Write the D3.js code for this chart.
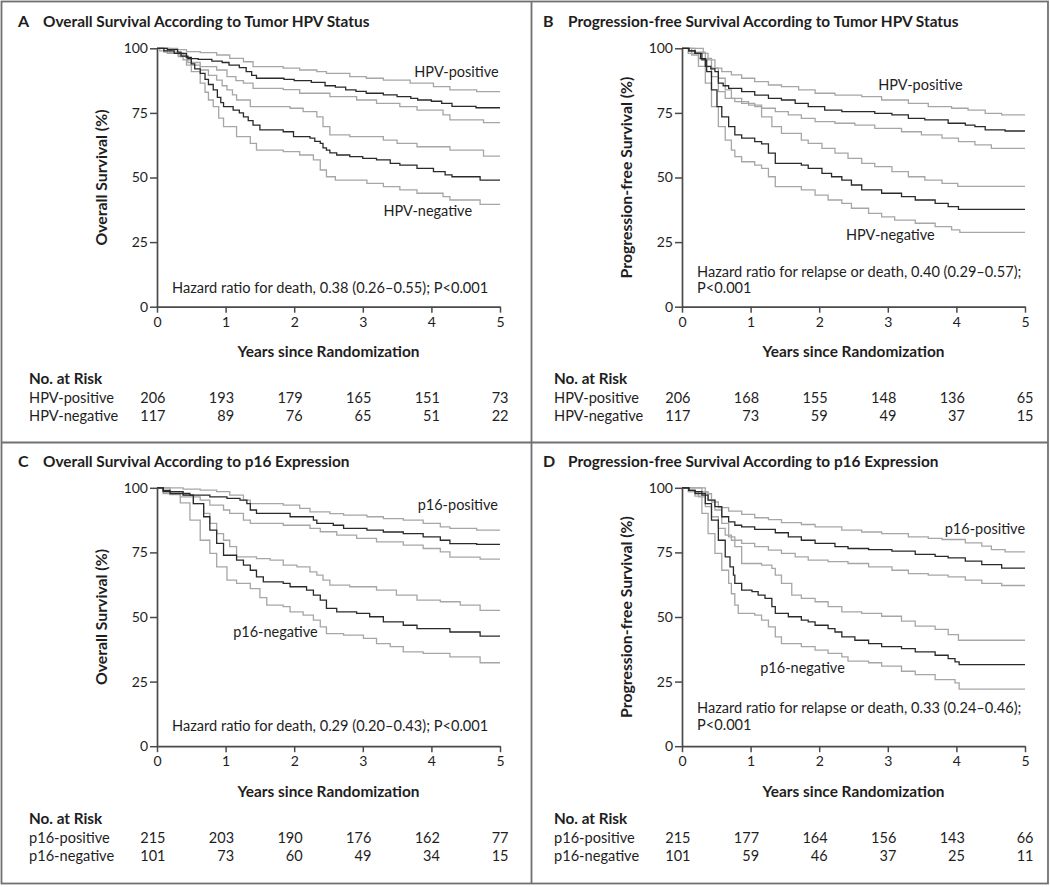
<!DOCTYPE html>
<html>
<head>
<meta charset="utf-8">
<script src="https://cdn.jsdelivr.net/npm/d3@7"></script>
<style>
	body { margin: 0; background: #fff; }
	svg text { font-family: Lato, "Open Sans", sans-serif; fill: #1e1e1e; }
</style>
</head>
<body>
<div id="chart"></div>
<script>

// Axis ticks
var yearTicks = [0, 1, 2, 3, 4, 5];
var survTicks = [0, 25, 50, 75, 100];

// Panel A - overall survival by HPV status  [years, survival %]
var aPosEst = [[0,100],[0.15,99.5],[0.3,98.5],[0.35,97],[0.45,96],[0.6,95.7],[0.8,95],[0.95,94.5],[1.05,93.5],[1.2,92.5],[1.3,91],[1.38,89.5],[1.45,88.4],[1.85,88],[2.0,87.5],[2.25,86.8],[2.45,85.5],[2.6,85],[2.75,83.9],[2.9,83.3],[3.05,82.6],[3.3,82],[3.5,81.3],[3.7,80.6],[3.8,80],[4.0,79.5],[4.15,78.7],[4.3,77.5],[4.65,77],[5,77]];
var aPosHi = [[0,100],[0.3,99.5],[0.43,98.7],[0.63,98.3],[0.87,97.4],[1.06,96.1],[1.26,94.8],[1.4,92.9],[1.84,92.3],[2.08,91.6],[2.33,91],[2.47,90.3],[2.81,89],[3.05,88.4],[3.3,87.7],[3.69,86.5],[4.03,85.2],[4.27,83.9],[4.66,83.2],[5,83.2]];
var aPosLo = [[0,100],[0.04,99],[0.15,98],[0.31,96.8],[0.45,94.5],[0.63,92.9],[0.87,91.6],[1.02,89],[1.15,87.5],[1.26,86.5],[1.4,84.5],[1.84,84],[2.08,82.6],[2.52,81.3],[2.91,80],[3.2,78.7],[3.54,77.4],[3.79,76.1],[4.17,74.2],[4.27,72.3],[4.76,71.2],[5,71.2]];
var aNegEst = [[0,100],[0.1,99],[0.25,98],[0.43,96.5],[0.5,94],[0.55,92],[0.63,90.3],[0.7,88],[0.75,86],[0.82,83.9],[0.88,81],[0.93,79],[0.97,77.4],[1.11,76.1],[1.2,75],[1.26,73.5],[1.33,72],[1.4,70.3],[1.5,68.4],[1.84,67.7],[1.99,65.8],[2.23,65.2],[2.3,64],[2.38,63.2],[2.42,61.5],[2.47,60.6],[2.52,59.5],[2.62,58.7],[2.81,58.1],[3.0,57.4],[3.2,56.8],[3.4,55.5],[3.54,54.8],[3.79,53.5],[4.03,52.3],[4.2,51],[4.3,50.3],[4.71,49],[5,49]];
var aNegHi = [[0,100],[0.19,98.1],[0.38,95.5],[0.5,93.5],[0.63,91.6],[0.75,89.5],[0.87,87.7],[0.95,85.5],[1.02,83.9],[1.1,82],[1.16,80],[1.36,77.4],[1.94,76.8],[2.13,75.5],[2.33,73.5],[2.42,69.7],[2.52,66.5],[2.81,65.8],[3.3,64.5],[3.5,63.2],[3.79,61.9],[4.27,60.6],[4.76,58.3],[5,58.3]];
var aNegLo = [[0,100],[0.1,98.5],[0.31,97.4],[0.43,93.5],[0.5,91],[0.63,86.5],[0.7,83],[0.75,80],[0.82,77.4],[0.9,73],[0.97,69.7],[1.16,65.8],[1.36,63.2],[1.45,60.6],[1.84,60],[2.08,58.7],[2.28,56.8],[2.38,52.9],[2.47,50.3],[2.6,49],[3.06,47.7],[3.3,46.5],[3.54,45.2],[3.79,43.9],[4.17,42.6],[4.27,41.3],[4.71,39.6],[5,39.6]];

// Panel B - progression-free survival by HPV status
var bPosEst = [[0,100],[0.1,99],[0.19,98],[0.27,96],[0.34,93],[0.42,92],[0.48,91],[0.53,86.5],[0.6,85.5],[0.68,84.5],[0.87,83.2],[1.06,81.9],[1.26,80.6],[1.45,80],[1.65,78.7],[1.84,77.4],[2.08,76.1],[2.33,75.5],[2.81,74.8],[3.06,74.2],[3.3,72.9],[3.54,72.3],[3.88,71],[4.13,70.3],[4.27,69.7],[4.42,68.4],[4.71,68],[5,68]];
var bPosHi = [[0,100],[0.31,98],[0.38,95.5],[0.48,92.3],[0.58,91],[0.72,89.7],[0.87,88.4],[1.06,87.1],[1.26,85.8],[1.45,85.2],[1.7,83.9],[1.94,82.6],[2.23,81.9],[2.62,81.3],[2.91,80],[3.3,78.7],[3.59,77.4],[3.93,76.8],[4.17,76.1],[4.42,74.8],[4.66,74.2],[5,74.2]];
var bPosLo = [[0,100],[0.09,98],[0.24,96],[0.34,92.9],[0.43,89],[0.53,83.2],[0.63,80.6],[0.77,79.4],[0.97,78],[1.16,76.8],[1.36,75.5],[1.55,74.2],[1.74,72.9],[1.94,71.6],[2.23,71],[2.52,70.3],[2.81,69],[3.2,67.7],[3.49,66.5],[3.79,65.2],[4.03,63.9],[4.27,62.6],[4.51,61.3],[5,61.3]];
var bNegEst = [[0,100],[0.1,99],[0.19,98],[0.29,95.5],[0.36,91],[0.43,83.9],[0.51,77.4],[0.58,73.5],[0.68,69.7],[0.77,66.5],[0.87,65.2],[1.06,63.9],[1.16,63],[1.26,59.4],[1.36,55.5],[1.74,54.8],[1.84,53.5],[2.04,51.6],[2.18,50.3],[2.33,49],[2.47,47.1],[2.62,45.2],[2.91,43.9],[3.2,42.6],[3.4,41.3],[3.69,40],[3.88,38.7],[4.03,37.7],[5,37.7]];
var bNegHi = [[0,100],[0.19,98.5],[0.34,96.1],[0.43,92.3],[0.53,88.4],[0.63,83.9],[0.72,80.6],[0.87,78.7],[1.06,77.4],[1.16,73.5],[1.31,69.7],[1.45,67.1],[1.74,64.5],[1.84,63.2],[2.04,61.3],[2.23,59.4],[2.42,57.4],[2.62,55.5],[2.81,54.2],[3.06,52.3],[3.3,50.3],[3.54,49],[3.79,47.7],[4.02,46.6],[5,46.6]];
var bNegLo = [[0,100],[0.14,97.4],[0.24,93],[0.34,86.5],[0.43,77.4],[0.53,69.7],[0.63,64.5],[0.72,60.6],[0.77,58.1],[0.87,56.1],[1.06,54.8],[1.16,53.5],[1.26,50.3],[1.36,46.5],[1.74,45.2],[1.94,43.2],[2.13,41.3],[2.33,40],[2.47,38.1],[2.72,36.1],[2.91,34.8],[3.1,33.5],[3.4,32.3],[3.69,31],[3.93,29.7],[4.05,28.8],[5,28.8]];

// Panel C - overall survival by p16 expression
var cPosEst = [[0,100],[0.09,99],[0.19,97.8],[0.48,97.2],[0.77,96.5],[1.02,95.9],[1.21,95.2],[1.31,93.9],[1.36,91.4],[1.45,90.1],[1.94,88.8],[2.28,87.5],[2.33,86.2],[2.57,85.5],[2.72,84.3],[3.06,83.6],[3.3,82.9],[3.59,82.3],[3.88,81],[4.13,79.7],[4.27,78.4],[4.66,78.1],[5,78.1]];
var cPosHi = [[0,100],[0.38,99.5],[0.63,99.1],[0.87,98.5],[1.06,97.2],[1.26,95.2],[1.36,93.9],[1.84,93.3],[2.08,92],[2.23,90.7],[2.52,90],[2.72,89.4],[3.06,88.8],[3.3,88.1],[3.59,87.5],[3.88,86.2],[4.13,84.9],[4.27,84.3],[4.66,83.6],[5,83.6]];
var cPosLo = [[0,100],[0.09,97.8],[0.34,96.5],[0.63,95.2],[0.77,93.3],[0.97,91.4],[1.06,90.1],[1.26,87.5],[1.36,86.2],[1.84,85.5],[2.23,84.3],[2.38,83],[2.62,81.7],[2.91,80.4],[3.2,79.1],[3.59,77.8],[3.88,76.5],[4.13,75.2],[4.27,73.2],[4.71,72.4],[5,72.4]];
var cNegEst = [[0,100],[0.09,98.5],[0.38,97.2],[0.53,93.9],[0.68,88.8],[0.77,83.6],[0.87,78.5],[0.97,73.9],[1.16,72],[1.26,70.1],[1.36,68.1],[1.45,65.5],[1.55,63.6],[1.84,63],[1.94,61.7],[2.18,60.4],[2.28,58.5],[2.38,56.5],[2.47,53.3],[2.62,52],[2.91,51.4],[3.1,50.1],[3.3,48.1],[3.59,46.8],[3.79,45.5],[4.27,44.2],[4.71,42.6],[5,42.6]];
var cNegHi = [[0,100],[0.19,98.5],[0.38,97.2],[0.53,93.9],[0.68,90.1],[0.77,86.2],[0.87,82.3],[0.97,79.7],[1.06,77.2],[1.16,73.3],[1.45,72.6],[1.65,72],[1.84,70.1],[2.04,69.4],[2.23,67.5],[2.33,66.2],[2.42,64.3],[2.52,62.3],[2.81,61.7],[3.2,60.4],[3.49,58.5],[3.79,56.5],[4.13,55.9],[4.42,54.6],[4.71,52.6],[5,52.6]];
var cNegLo = [[0,100],[0.09,98.5],[0.19,97.4],[0.34,94.2],[0.48,87.5],[0.63,79.7],[0.77,74.6],[0.87,69.4],[1.02,64.3],[1.16,63],[1.36,61],[1.5,57.5],[1.6,54.6],[1.84,54],[1.94,52],[2.13,50.7],[2.28,48.8],[2.38,46.2],[2.47,43.6],[2.72,43],[3.01,41.7],[3.2,39.7],[3.4,38.5],[3.59,36.5],[3.88,35.9],[4.27,34.6],[4.71,32.3],[5,32.3]];

// Panel D - progression-free survival by p16 expression
var dPosEst = [[0,100],[0.1,99],[0.19,98.5],[0.29,97.2],[0.38,95.2],[0.48,92.7],[0.58,88.8],[0.68,86.8],[0.77,85.5],[0.87,84.9],[1.06,83.9],[1.36,82.6],[1.55,81],[1.74,79.7],[1.94,78.5],[2.23,77.2],[2.42,76.5],[2.72,76.1],[3.06,75.5],[3.4,74.2],[3.69,73.5],[3.88,72.9],[4.13,71.6],[4.37,70.3],[4.66,68.9],[5,68.9]];
var dPosHi = [[0,100],[0.34,98],[0.38,97.7],[0.43,94.5],[0.53,92.3],[0.68,91],[0.87,89.7],[1.06,88.4],[1.26,87.7],[1.45,86.5],[1.74,85.8],[1.94,84.9],[2.33,83.6],[2.62,82.9],[2.91,82.3],[3.3,81],[3.59,80.4],[3.79,80],[4.13,78.7],[4.37,77.4],[4.51,76.1],[4.71,75.2],[5,75.2]];
var dPosLo = [[0,100],[0.09,98.5],[0.24,96.5],[0.34,92.7],[0.43,88.8],[0.53,84.3],[0.63,81.7],[0.72,79.7],[0.87,78.5],[1.06,77.2],[1.26,75.9],[1.45,74.6],[1.65,73.3],[1.84,72],[2.13,71.4],[2.42,70.7],[2.72,69.4],[3.06,68.1],[3.3,66.8],[3.59,66.2],[3.88,65.5],[4.13,64.3],[4.37,63],[4.66,62.2],[5,62.2]];
var dNegEst = [[0,100],[0.1,99],[0.19,97.8],[0.34,93.9],[0.43,87.5],[0.53,79.7],[0.63,73.3],[0.7,69.4],[0.75,66.2],[0.77,63],[0.87,60.4],[1.02,59.8],[1.11,58.5],[1.21,57.2],[1.31,54],[1.36,51.4],[1.55,50.1],[1.74,48.8],[1.84,48.1],[1.94,46.8],[2.13,45.5],[2.23,44.2],[2.33,42.3],[2.52,41],[2.72,39.7],[2.91,38.5],[3.2,37.8],[3.4,36.5],[3.69,35.2],[3.88,33.9],[3.98,32.6],[4.04,31.6],[5,31.6]];
var dNegHi = [[0,100],[0.29,98.5],[0.38,95.2],[0.48,91.4],[0.58,86.2],[0.68,81],[0.77,77.2],[0.87,70.7],[1.16,70.1],[1.31,68.8],[1.36,66.2],[1.45,63],[1.6,58.5],[1.74,57.2],[1.94,55.9],[2.13,54],[2.33,52],[2.62,51.4],[2.91,50.3],[3.2,48.4],[3.4,46.5],[3.69,45.2],[3.88,43.2],[4.03,41],[5,41]];
var dNegLo = [[0,100],[0.1,98.5],[0.19,96.8],[0.29,90.1],[0.38,82.3],[0.48,74.6],[0.58,68.1],[0.68,63],[0.72,59],[0.77,54.6],[0.82,51.4],[1.06,50.7],[1.16,48.8],[1.26,46.2],[1.36,42.3],[1.45,39.7],[1.74,38.5],[1.94,37.2],[2.13,35.9],[2.33,34.6],[2.42,32.9],[2.72,32.3],[2.91,31],[3.2,29],[3.4,27.7],[3.69,25.8],[3.98,24.5],[4.04,22.1],[5,22.1]];

// Numbers at risk
var aRiskPos = [206, 193, 179, 165, 151, 73];
var aRiskNeg = [117, 89, 76, 65, 51, 22];
var bRiskPos = [206, 168, 155, 148, 136, 65];
var bRiskNeg = [117, 73, 59, 49, 37, 15];
var cRiskPos = [215, 203, 190, 176, 162, 77];
var cRiskNeg = [101, 73, 60, 49, 34, 15];
var dRiskPos = [215, 177, 164, 156, 143, 66];
var dRiskNeg = [101, 59, 46, 37, 25, 11];

var W = 1050, H = 887;

var panels = [
	{ letter: "A", title: "Overall Survival According to Tumor HPV Status", ox: 0, oy: 0,
	  yTitle: "Overall Survival (%)", groups: ["HPV-positive", "HPV-negative"],
	  pos: [aPosHi, aPosLo, aPosEst], neg: [aNegHi, aNegLo, aNegEst],
	  risk: [aRiskPos, aRiskNeg],
	  hazard: ["Hazard ratio for death, 0.38 (0.26\u20130.55); P<0.001"], hazardY: [293],
	  posLabel: [3.75, 88.9], negLabel: [3.3, 35.1] },
	{ letter: "B", title: "Progression-free Survival According to Tumor HPV Status", ox: 525, oy: 0,
	  yTitle: "Progression-free Survival (%)", groups: ["HPV-positive", "HPV-negative"],
	  pos: [bPosHi, bPosLo, bPosEst], neg: [bNegHi, bNegLo, bNegEst],
	  risk: [bRiskPos, bRiskNeg],
	  hazard: ["Hazard ratio for relapse or death, 0.40 (0.29\u20130.57);", "P<0.001"], hazardY: [276.5, 293],
	  posLabel: [2.86, 83.9], negLabel: [2.39, 25.8] },
	{ letter: "C", title: "Overall Survival According to p16 Expression", ox: 0, oy: 439.5,
	  yTitle: "Overall Survival (%)", groups: ["p16-positive", "p16-negative"],
	  pos: [cPosHi, cPosLo, cPosEst], neg: [cNegHi, cNegLo, cNegEst],
	  risk: [cRiskPos, cRiskNeg],
	  hazard: ["Hazard ratio for death, 0.29 (0.20\u20130.43); P<0.001"], hazardY: [291],
	  posLabel: [3.8, 91.6], negLabel: [1.11, 42.2] },
	{ letter: "D", title: "Progression-free Survival According to p16 Expression", ox: 525, oy: 439.5,
	  yTitle: "Progression-free Survival (%)", groups: ["p16-positive", "p16-negative"],
	  pos: [dPosHi, dPosLo, dPosEst], neg: [dNegHi, dNegLo, dNegEst],
	  risk: [dRiskPos, dRiskNeg],
	  hazard: ["Hazard ratio for relapse or death, 0.33 (0.24\u20130.46);", "P<0.001"], hazardY: [273, 290.5],
	  posLabel: [3.83, 82.3], negLabel: [1.14, 28.4] }
];

var svg = d3.select("#chart").append("svg")
	.attr("width", W)
	.attr("height", H);

// Frame and dividers
var frame = svg.append("g").attr("stroke", "#707070").attr("stroke-width", 1.8).attr("fill", "none");
frame.append("rect").attr("x", 1.5).attr("y", 1.5).attr("width", W - 3.5).attr("height", 882);
frame.append("line").attr("x1", 531.5).attr("x2", 531.5).attr("y1", 1.5).attr("y2", 883.5);
frame.append("line").attr("x1", 1.5).attr("x2", W - 2).attr("y1", 442.5).attr("y2", 442.5);

panels.forEach(drawPanel);

function drawPanel(p){
	var g = svg.append("g").attr("transform", "translate(" + p.ox + "," + p.oy + ")");

	var x = d3.scaleLinear().domain([0, 5]).range([157, 500]);
	var y = d3.scaleLinear().domain([0, 100]).range([306.7, 48.3]);

	// Title
	g.append("text").attr("x", 18).attr("y", 27)
		.attr("font-size", 16).attr("font-weight", "bold").text(p.letter);
	g.append("text").attr("x", 43).attr("y", 27)
		.attr("font-size", 15.4).attr("font-weight", "bold").text(p.title);

	// Survival curves - confidence limits in grey, estimates dark
	var line = d3.line()
		.x(d => x(d[0]))
		.y(d => y(d[1]))
		.curve(d3.curveStepAfter);

	var curves = [p.pos[0], p.pos[1], p.neg[0], p.neg[1]];
	g.selectAll(".ci")
		.data(curves)
		.enter().append("path")
		.attr("class", "ci")
		.attr("d", line)
		.attr("fill", "none")
		.attr("stroke", "#a6a6a6")
		.attr("stroke-width", 1.3);

	g.selectAll(".est")
		.data([p.pos[2], p.neg[2]])
		.enter().append("path")
		.attr("class", "est")
		.attr("d", line)
		.attr("fill", "none")
		.attr("stroke", "#2a2a2a")
		.attr("stroke-width", 1.3);

	// Axes
	var yAxis = g.append("g")
		.attr("transform", "translate(157,0)")
		.call(d3.axisLeft(y).tickValues(survTicks).tickSize(7).tickSizeOuter(0));
	var xAxis = g.append("g")
		.attr("transform", "translate(0,306.7)")
		.call(d3.axisBottom(x).tickValues(yearTicks).tickFormat(d3.format("d")).tickSize(6).tickSizeOuter(0));

	[yAxis, xAxis].forEach(ax => {
		ax.select(".domain").attr("stroke", "#4a4a4a").attr("stroke-width", 1.7);
		ax.selectAll(".tick line").attr("stroke", "#4a4a4a").attr("stroke-width", 1.5);
		ax.selectAll(".tick text")
			.attr("font-size", 14)
			.attr("font-family", "Lato, 'Open Sans', sans-serif")
			.attr("fill", "#1e1e1e");
	});
	yAxis.selectAll(".tick text").attr("x", -9);
	xAxis.selectAll(".tick text").attr("y", 10);

	// Axis titles
	g.append("text")
		.attr("transform", "translate(107," + ((48.3 + 306.7) / 2) + ") rotate(-90)")
		.attr("text-anchor", "middle")
		.attr("font-size", 15.8).attr("font-weight", "bold")
		.text(p.yTitle);
	g.append("text")
		.attr("x", (157 + 500) / 2).attr("y", 357)
		.attr("text-anchor", "middle")
		.attr("font-size", 15.4).attr("font-weight", "bold")
		.text("Years since Randomization");

	// Group labels
	g.append("text").attr("x", x(p.posLabel[0])).attr("y", y(p.posLabel[1]))
		.attr("font-size", 14.5).text(p.groups[0]);
	g.append("text").attr("x", x(p.negLabel[0])).attr("y", y(p.negLabel[1]))
		.attr("font-size", 14.5).text(p.groups[1]);

	// Hazard ratio note
	p.hazard.forEach((t, i) => {
		g.append("text").attr("x", 172).attr("y", p.hazardY[i])
			.attr("font-size", 14.6).text(t);
	});

	// Numbers at risk
	g.append("text").attr("x", 29).attr("y", 384)
		.attr("font-size", 15.3).attr("font-weight", "bold").text("No. at Risk");

	var rowY = [403, 421];
	p.groups.forEach((name, i) => {
		g.append("text").attr("x", 29).attr("y", rowY[i])
			.attr("font-size", 14.6).text(name);
		g.selectAll(".risk" + i)
			.data(p.risk[i])
			.enter().append("text")
			.attr("class", "risk" + i)
			.attr("x", (d, j) => x(yearTicks[j]) + 8.5)
			.attr("y", rowY[i])
			.attr("text-anchor", "end")
			.attr("font-size", 14.5)
			.text(d => d);
	});
}

</script>
</body>
</html>
